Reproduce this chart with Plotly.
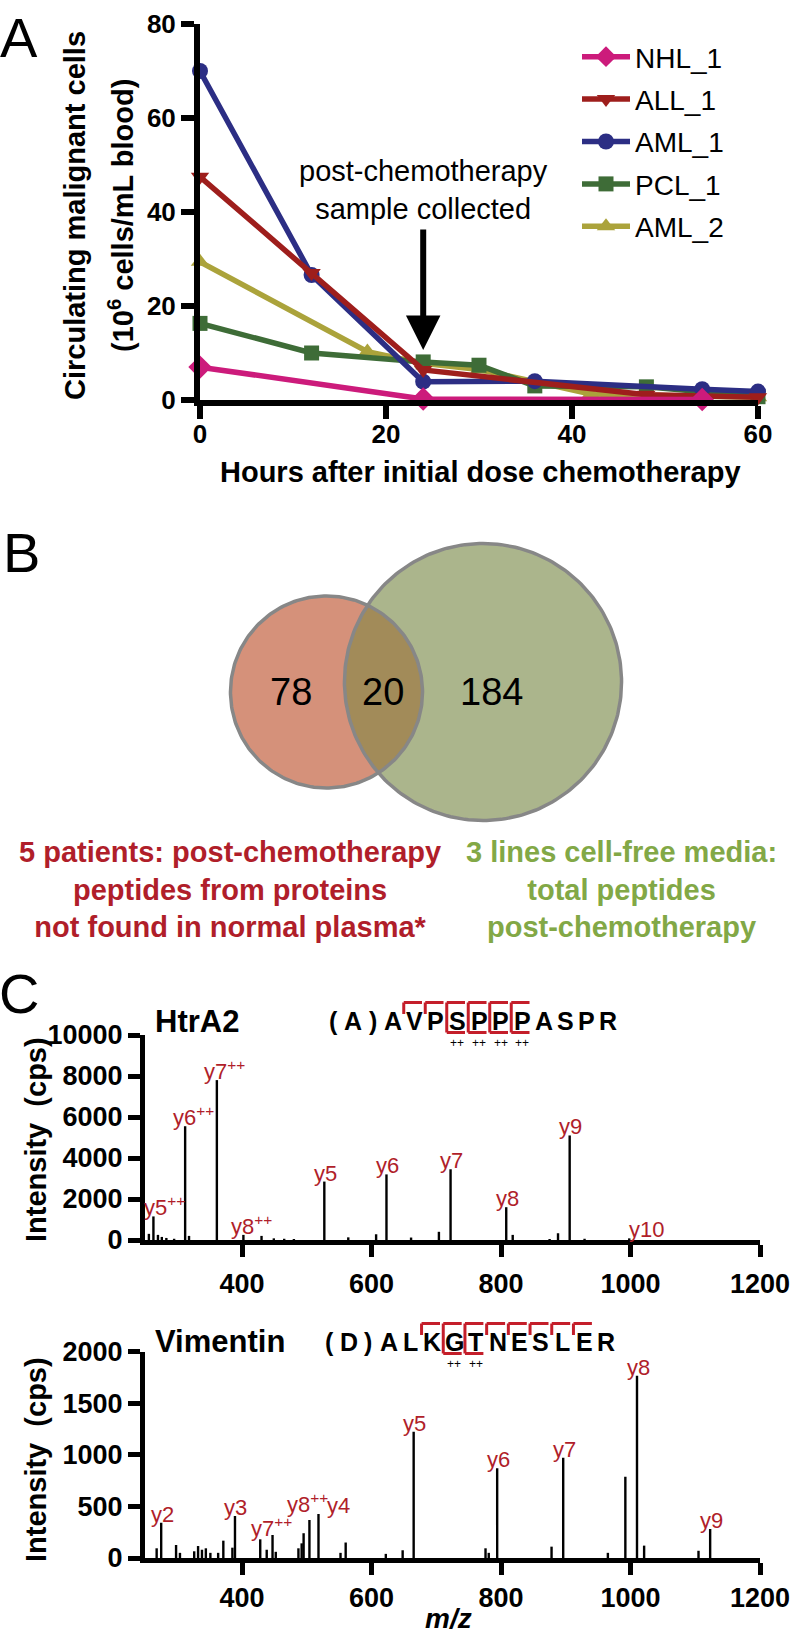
import numpy as np
import plotly.graph_objects as go

# ---------------- data ----------------
series_names = ["NHL_1", "ALL_1", "AML_1", "PCL_1", "AML_2"]
nhl_hours = [0, 24, 54]
nhl_cells = [7.0, 0.2, 0.1]
all_hours = [0, 12, 24, 48, 60]
all_cells = [47.5, 27.0, 6.4, 1.1, 0.6]
aml1_hours = [0, 12, 24, 36, 54, 60]
aml1_cells = [70.0, 26.6, 3.9, 4.0, 2.3, 1.8]
pcl_hours = [0, 12, 24, 30, 36, 48, 60]
pcl_cells = [16.3, 10.0, 8.1, 7.4, 3.0, 2.8, 0.7]
aml2_hours = [0, 18, 24, 30, 42, 60]
aml2_cells = [29.4, 10.3, 7.8, 6.5, 1.3, 0.6]
hour_ticks = [0, 20, 40, 60]
cell_ticks = [0, 20, 40, 60, 80]
sample_hour = 24

venn_counts = [78, 20, 184]  # patients only, shared, cell lines only
venn_titles = ["5 patients: post-chemotherapy<br>peptides from proteins<br>not found in normal plasma*",
               "3 lines cell-free media:<br>total peptides<br>post-chemotherapy"]

htra2_mz = [256, 263, 270, 276, 283, 295, 312, 318, 361, 402, 430, 449, 465, 480,
            527, 564, 607, 623, 661, 704, 722, 808, 818, 875, 888, 906, 929, 998]
htra2_int = [300, 1150, 250, 150, 100, 60, 5550, 200, 7800, 250, 200, 80, 60, 50,
             2850, 130, 280, 3200, 120, 400, 3450, 1600, 250, 50, 330, 5100, 60, 80]
htra2_ion_mz = [263, 312, 361, 402, 527, 623, 722, 808, 906, 998]
htra2_ion_names = ["y5++", "y6++", "y7++", "y8++", "y5", "y6", "y7", "y8", "y9", "y10"]

vim_mz = [268, 275, 298, 304, 326, 332, 338, 344, 351, 363, 371, 385, 389, 428, 438,
          447, 452, 487, 492, 495, 504, 518, 552, 560, 622, 648, 665, 776, 781, 794,
          878, 896, 965, 992, 1010, 1021, 1105, 1123]
vim_int = [94, 342, 126, 50, 65, 116, 80, 94, 50, 50, 168, 100, 407, 181, 80,
           223, 60, 94, 142, 240, 368, 426, 50, 150, 40, 75, 1224, 94, 50, 869,
           110, 972, 50, 788, 1767, 120, 70, 281]
vim_ion_mz = [275, 389, 447, 504, 518, 665, 794, 896, 1010, 1123]
vim_ion_names = ["y2", "y3", "y7++", "y8++", "y4", "y5", "y6", "y7", "y8", "y9"]

mz_ticks = [400, 600, 800, 1000, 1200]
htra2_ticks = [0, 2000, 4000, 6000, 8000, 10000]
vim_ticks = [0, 500, 1000, 1500, 2000]

htra2_prefix, htra2_seq = "(A)", "AVPSPPPASPR"
htra2_cleave, htra2_double = [1, 2, 3, 4, 5, 6], [3, 4, 5, 6]
vim_prefix, vim_seq = "(D)", "ALKGTNESLER"
vim_cleave, vim_double = [2, 3, 4, 5, 6, 7, 8, 9], [3, 4]

# ---------------- styling / layout ----------------
W, H = 793, 1642
FONT = "Liberation Sans, Arial, Helvetica, sans-serif"
RED = "#B01E2A"
BRK = "#C41E2A"
GREEN_TXT = "#82A846"


def px(x):
    return x / W


def py(y):
    return 1 - y / H


fig = go.Figure()

colors = {"NHL_1": "#CC1B7B", "ALL_1": "#9E1E1C", "AML_1": "#2C2E84",
          "PCL_1": "#3E6C37", "AML_2": "#ABA33B"}
symbols = {"NHL_1": "diamond", "ALL_1": "triangle-down", "AML_1": "circle",
           "PCL_1": "square", "AML_2": "triangle-up"}
msizes = {"NHL_1": 18, "ALL_1": 16, "AML_1": 16, "PCL_1": 15, "AML_2": 16}
data_a = {"NHL_1": (nhl_hours, nhl_cells), "ALL_1": (all_hours, all_cells),
          "AML_1": (aml1_hours, aml1_cells), "PCL_1": (pcl_hours, pcl_cells),
          "AML_2": (aml2_hours, aml2_cells)}
draw_order = ["AML_2", "PCL_1", "AML_1", "ALL_1", "NHL_1"]
for name in draw_order:
    hx, cy = data_a[name]
    fig.add_trace(go.Scatter(
        x=hx, y=cy, name=name, mode="lines+markers", xaxis="x", yaxis="y",
        line=dict(color=colors[name], width=5.5),
        marker=dict(symbol=symbols[name], size=msizes[name], color=colors[name]),
        cliponaxis=False, legendrank=series_names.index(name) + 1,
        legendgroup=name))

# ---- Venn (panel B) on a pixel-unit axis
n_left = venn_counts[0] + venn_counts[1]
n_right = venn_counts[1] + venn_counts[2]
k = 9.7
r1, r2 = k * np.sqrt(n_left), k * np.sqrt(n_right)
c1 = np.array([326.5, 692.0])
c2 = np.array([483.0, 682.0])


def circ(c, r, a0=0.0, a1=2 * np.pi, n=241):
    a = np.linspace(a0, a1, n)
    return c[0] + r * np.cos(a), c[1] + r * np.sin(a)


x1, y1 = circ(c1, r1)
x2, y2 = circ(c2, r2)
d = np.linalg.norm(c2 - c1)
a_ = (r1 ** 2 - r2 ** 2 + d ** 2) / (2 * d)
th = np.arctan2(c2[1] - c1[1], c2[0] - c1[0])
ph1 = np.arccos(a_ / r1)
ph2 = np.arccos((d - a_) / r2)
lx1, ly1 = circ(c1, r1, th - ph1, th + ph1, 120)
lx2, ly2 = circ(c2, r2, th + np.pi - ph2, th + np.pi + ph2, 120)
lens_x = np.concatenate([lx1, lx2])
lens_y = np.concatenate([ly1, ly2])

vk = dict(xaxis="x4", yaxis="y4", mode="lines", showlegend=False, hoverinfo="skip")
fig.add_trace(go.Scatter(x=x1, y=y1, fill="toself", fillcolor="#D5917A",
                         line=dict(width=0, color="rgba(0,0,0,0)"), **vk))
fig.add_trace(go.Scatter(x=x2, y=y2, fill="toself", fillcolor="#ABB58C",
                         line=dict(width=0, color="rgba(0,0,0,0)"), **vk))
fig.add_trace(go.Scatter(x=lens_x, y=lens_y, fill="toself", fillcolor="#A28B59",
                         line=dict(width=0, color="rgba(0,0,0,0)"), **vk))
fig.add_trace(go.Scatter(x=x1, y=y1, line=dict(width=3.5, color="#878787"), **vk))
fig.add_trace(go.Scatter(x=x2, y=y2, line=dict(width=3.5, color="#878787"), **vk))

venn_pos = [((c1[0] - r1) + (c2[0] - r2)) / 2 + 4,
            ((c2[0] - r2) + (c1[0] + r1)) / 2,
            c2[0] + 0.06 * r2]
annotations = []
for cnt, xv in zip(venn_counts, venn_pos):
    annotations.append(dict(x=xv, y=c1[1], xref="x4", yref="y4", text=str(cnt),
                            showarrow=False, font=dict(size=38, color="black", family=FONT)))

# ---- spectra (panel C)


def sticks(mz, inten):
    xs, ys = [], []
    for m, v in zip(mz, inten):
        xs += [m, m, None]
        ys += [0, v, None]
    return xs, ys


for mz, inten, xa, ya in [(htra2_mz, htra2_int, "x2", "y2"), (vim_mz, vim_int, "x3", "y3")]:
    xs, ys = sticks(mz, inten)
    fig.add_trace(go.Scatter(x=xs, y=ys, mode="lines", xaxis=xa, yaxis=ya,
                             line=dict(color="black", width=2.4), showlegend=False,
                             hoverinfo="skip", cliponaxis=False))

nudges = {("x2", "y5++"): (3, 0), ("x2", "y10"): (16, 0), ("x3", "y8++"): (-10, 7),
          ("x3", "y4"): (19, 0), ("x3", "y7++"): (-9, -2)}
for ion_mz, ion_names, mz, inten, xa, ya in [
        (htra2_ion_mz, htra2_ion_names, htra2_mz, htra2_int, "x2", "y2"),
        (vim_ion_mz, vim_ion_names, vim_mz, vim_int, "x3", "y3")]:
    for m, nm in zip(ion_mz, ion_names):
        v = inten[mz.index(m)]
        dbl = nm.endswith("++")
        txt = nm.replace("++", "<sup>++</sup>")
        dx, dy = nudges.get((xa, nm), (0, 0))
        annotations.append(dict(x=m, y=v, xref=xa, yref=ya, text=txt, showarrow=False,
                                xanchor="center", yanchor="bottom",
                                xshift=(8 if dbl else 1) + dx, yshift=-6 + dy,
                                font=dict(size=22, color=RED, family=FONT)))

# peptide sequences with fragment brackets
shapes = []


def sequence(prefix, seq, cleave, double, x0, sp, cy):
    for i, ch in enumerate(seq):
        annotations.append(dict(x=px(x0 + i * sp), y=py(cy), xref="paper", yref="paper",
                                text="<b>%s</b>" % ch, showarrow=False,
                                font=dict(size=25, color="black", family=FONT)))
    for j, ch in enumerate(prefix):
        off = [-2.75, -1.85, -0.95][j]
        annotations.append(dict(x=px(x0 + off * sp), y=py(cy), xref="paper", yref="paper",
                                text="<b>%s</b>" % ch, showarrow=False,
                                font=dict(size=25, color="black", family=FONT)))
    ytop, ytick, ybot = cy - 18.5, cy - 7, cy + 11.5
    ln = dict(color=BRK, width=3)
    for i in cleave:
        b = x0 + (i - 0.5) * sp
        shapes.append(dict(type="line", xref="paper", yref="paper", x0=px(b), x1=px(b + 0.85 * sp),
                           y0=py(ytop), y1=py(ytop), line=ln))
        yb = ybot if i in double else ytick
        shapes.append(dict(type="line", xref="paper", yref="paper", x0=px(b), x1=px(b),
                           y0=py(ytop), y1=py(yb), line=ln))
        if i in double:
            shapes.append(dict(type="line", xref="paper", yref="paper", x0=px(b), x1=px(b + 0.85 * sp),
                               y0=py(ybot), y1=py(ybot), line=ln))
            annotations.append(dict(x=px(x0 + i * sp), y=py(cy + 22), xref="paper", yref="paper",
                                    text="++", showarrow=False,
                                    font=dict(size=12, color="black", family=FONT)))


sequence(htra2_prefix, htra2_seq, htra2_cleave, htra2_double, 393, 21.5, 1021)
sequence(vim_prefix, vim_seq, vim_cleave, vim_double, 389, 21.7, 1342)

# ---- text annotations
annotations += [
    dict(x=px(19), y=py(37), xref="paper", yref="paper", text="A", showarrow=False,
         font=dict(size=56, color="black", family=FONT)),
    dict(x=px(21), y=py(553), xref="paper", yref="paper", text="B", showarrow=False,
         font=dict(size=56, color="black", family=FONT)),
    dict(x=px(19), y=py(993), xref="paper", yref="paper", text="C", showarrow=False,
         font=dict(size=56, color="black", family=FONT)),
    dict(x=px(75), y=py(216), xref="paper", yref="paper", text="<b>Circulating malignant cells</b>",
         textangle=-90, showarrow=False, font=dict(size=29, color="black", family=FONT)),
    dict(x=px(121), y=py(216), xref="paper", yref="paper",
         text="<b>(10<sup>6</sup> cells/mL blood)</b>",
         textangle=-90, showarrow=False, font=dict(size=29, color="black", family=FONT)),
    dict(x=px(480), y=py(472), xref="paper", yref="paper",
         text="<b>Hours after initial dose chemotherapy</b>", showarrow=False,
         font=dict(size=29, color="black", family=FONT)),
    dict(x=sample_hour, y=py(190), xref="x", yref="paper",
         text="post-chemotherapy<br>sample collected", showarrow=False,
         font=dict(size=29, color="black", family=FONT)),
    dict(x=sample_hour, y=(400 - 350) / 4.7, xref="x", yref="y", text="", showarrow=True,
         ax=0, ay=-122, arrowhead=2, arrowsize=1.15, arrowwidth=6, arrowcolor="black"),
    dict(x=px(230), y=py(889), xref="paper", yref="paper", text="<b>%s</b>" % venn_titles[0],
         showarrow=False, font=dict(size=29, color=RED, family=FONT)),
    dict(x=px(621), y=py(889), xref="paper", yref="paper", text="<b>%s</b>" % venn_titles[1],
         showarrow=False, font=dict(size=29, color=GREEN_TXT, family=FONT)),
    dict(x=px(153), y=py(1021), xref="paper", yref="paper", text="<b>HtrA2</b>", xanchor="left",
         showarrow=False, font=dict(size=31, color="black", family=FONT)),
    dict(x=px(153), y=py(1341), xref="paper", yref="paper", text="<b>Vimentin</b>", xanchor="left",
         showarrow=False, font=dict(size=31, color="black", family=FONT)),
    dict(x=px(36), y=py(1140), xref="paper", yref="paper", text="<b>Intensity  (cps)</b>",
         textangle=-90, showarrow=False, font=dict(size=29, color="black", family=FONT)),
    dict(x=px(36), y=py(1460), xref="paper", yref="paper", text="<b>Intensity  (cps)</b>",
         textangle=-90, showarrow=False, font=dict(size=29, color="black", family=FONT)),
    dict(x=px(448), y=py(1618), xref="paper", yref="paper", text="<b><i>m/z</i></b>",
         showarrow=False, font=dict(size=28, color="black", family=FONT)),
]
for ann in annotations:
    ann.setdefault("xanchor", "center")
    ann.setdefault("yanchor", "middle")

axA = dict(showline=True, linewidth=6, linecolor="black", ticks="outside", ticklen=13,
           tickwidth=6, tickcolor="black", showgrid=False, zeroline=False,
           tickfont=dict(size=26, color="black", family=FONT, weight="bold"))
axC = dict(showline=True, linewidth=5, linecolor="black", ticks="outside", ticklen=12,
           tickwidth=5, tickcolor="black", showgrid=False, zeroline=False, tickformat="d",
           tickfont=dict(size=27, color="black", family=FONT, weight="bold"))

fig.update_layout(
    width=W, height=H, autosize=False,
    margin=dict(l=0, r=0, t=0, b=0, pad=0, autoexpand=False),
    paper_bgcolor="white", plot_bgcolor="rgba(0,0,0,0)",
    font=dict(family=FONT, color="black"),
    xaxis=dict(domain=[px(200), px(758)], range=[0, 60], tickvals=hour_ticks, anchor="y",
               ticklabelstandoff=-7, **axA),
    yaxis=dict(domain=[py(400), py(24)], range=[0, 80], tickvals=cell_ticks, anchor="x", **axA),
    xaxis2=dict(domain=[px(145), px(760)], range=[250, 1200], tickvals=mz_ticks, anchor="y2",
                ticklabelstandoff=4, **axC),
    yaxis2=dict(domain=[py(1240), py(1035)], range=[0, 10000], tickvals=htra2_ticks, anchor="x2", **axC),
    xaxis3=dict(domain=[px(145), px(760)], range=[250, 1200], tickvals=mz_ticks, anchor="y3",
                ticklabelstandoff=0, **axC),
    yaxis3=dict(domain=[py(1558), py(1351.6)], range=[0, 2000], tickvals=vim_ticks, anchor="x3", **axC),
    xaxis4=dict(domain=[px(150), px(700)], range=[150, 700], visible=False, anchor="y4"),
    yaxis4=dict(domain=[py(850), py(520)], range=[850, 520], visible=False, anchor="x4"),
    legend=dict(x=px(577), y=py(32), xanchor="left", yanchor="top", font=dict(size=28, family=FONT),
                itemwidth=48, tracegroupgap=3, bgcolor="rgba(0,0,0,0)", traceorder="grouped"),
    showlegend=True,
    annotations=annotations,
    shapes=shapes,
)

fig.write_html("out.html", config={"displayModeBar": False},
               post_script="document.body.style.margin='0px';document.body.style.overflow='hidden';")
